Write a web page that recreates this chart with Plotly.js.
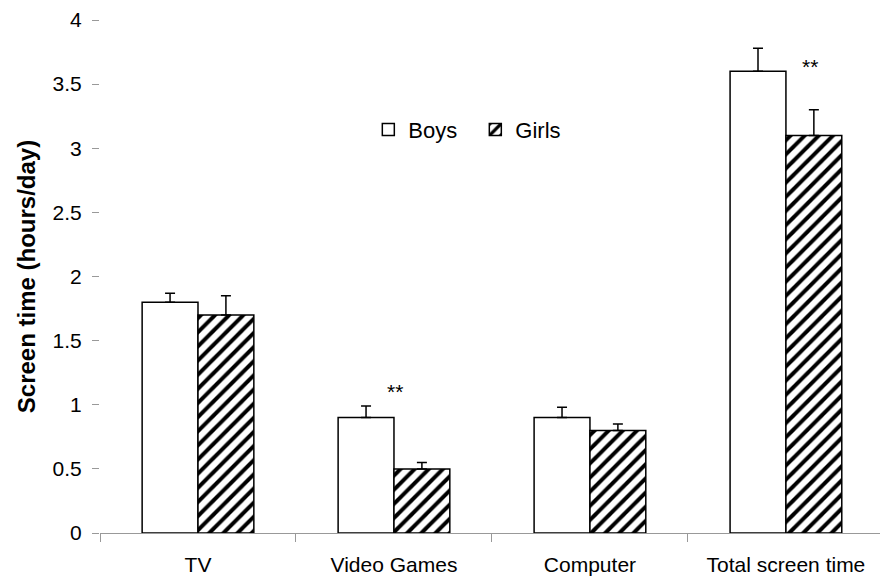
<!DOCTYPE html>
<html>
<head>
<meta charset="utf-8">
<script src="https://cdn.plot.ly/plotly-3.0.1.min.js"></script>
<style>html,body{margin:0;padding:0;background:#fff}#chart{width:880px;height:585px}</style>
</head>
<body>
<div id="chart"></div>
<script>
const categories = ["TV", "Video Games", "Computer", "Total screen time"];
const boys = [1.8, 0.9, 0.9, 3.6];
const boysErr = [0.07, 0.09, 0.08, 0.18];
const girls = [1.7, 0.5, 0.8, 3.1];
const girlsErr = [0.15, 0.05, 0.05, 0.2];
const sigCats = ["Video Games", "Total screen time"];
const sigY = [1.1, 3.64];

const font = "Liberation Sans, Arial, sans-serif";
const sigShift = [1, 24];

const traces = [
  {
    type: "bar", name: "Boys", x: categories, y: boys,
    marker: {color: "#ffffff", line: {color: "#000", width: 1.5}},
    error_y: {type: "data", array: boysErr, arrayminus: boysErr.map(() => 0), symmetric: false, color: "#000", thickness: 1.5, width: 5}
  },
  {
    type: "bar", name: "Girls", x: categories, y: girls,
    marker: {color: "#ffffff", line: {color: "#000", width: 1.5},
      pattern: {shape: "/", fgcolor: "#000", bgcolor: "#fff", size: 10, solidity: 0.4}},
    error_y: {type: "data", array: girlsErr, arrayminus: girlsErr.map(() => 0), symmetric: false, color: "#000", thickness: 1.5, width: 5}
  }
];

const annotations = sigCats.map((c, i) => ({
  x: c, y: sigY[i], xref: "x", yref: "y", text: "**", showarrow: false,
  xshift: sigShift[i], font: {family: font, size: 21, color: "#000"}
}));

const layout = {
  width: 880, height: 585,
  margin: {l: 100, r: 0, t: 20, b: 52},
  paper_bgcolor: "#fff", plot_bgcolor: "#fff",
  barmode: "group", bargap: 0.43, bargroupgap: 0,
  font: {family: font, size: 21, color: "#000"},
  showlegend: true,
  legend: {orientation: "h", x: 0.344, xanchor: "left", y: 0.786, yanchor: "middle",
    font: {family: font, size: 22, color: "#000"}, itemwidth: 30, entrywidth: 62,
    traceorder: "normal", bgcolor: "rgba(0,0,0,0)"},
  xaxis: {
    type: "category", range: [-0.5, 3.48], showgrid: false, zeroline: false,
    showline: true, linecolor: "#999", linewidth: 1,
    ticks: "outside", tickson: "boundaries", ticklen: 8, tickcolor: "#999",
    ticklabelstandoff: 13,
    tickfont: {family: font, size: 21, color: "#000"}
  },
  yaxis: {
    range: [0, 4], dtick: 0.5, showgrid: false, zeroline: false, showline: false,
    ticks: "outside", ticklen: 7, tickcolor: "#999", ticklabelstandoff: 6,
    tickfont: {family: font, size: 21, color: "#000"},
    title: {text: "<b>Screen time (hours/day)</b>", font: {family: font, size: 24, color: "#000"}, standoff: 10}
  },
  annotations: annotations
};

Plotly.newPlot("chart", traces, layout, {displayModeBar: false, staticPlot: true});
</script>
</body>
</html>
